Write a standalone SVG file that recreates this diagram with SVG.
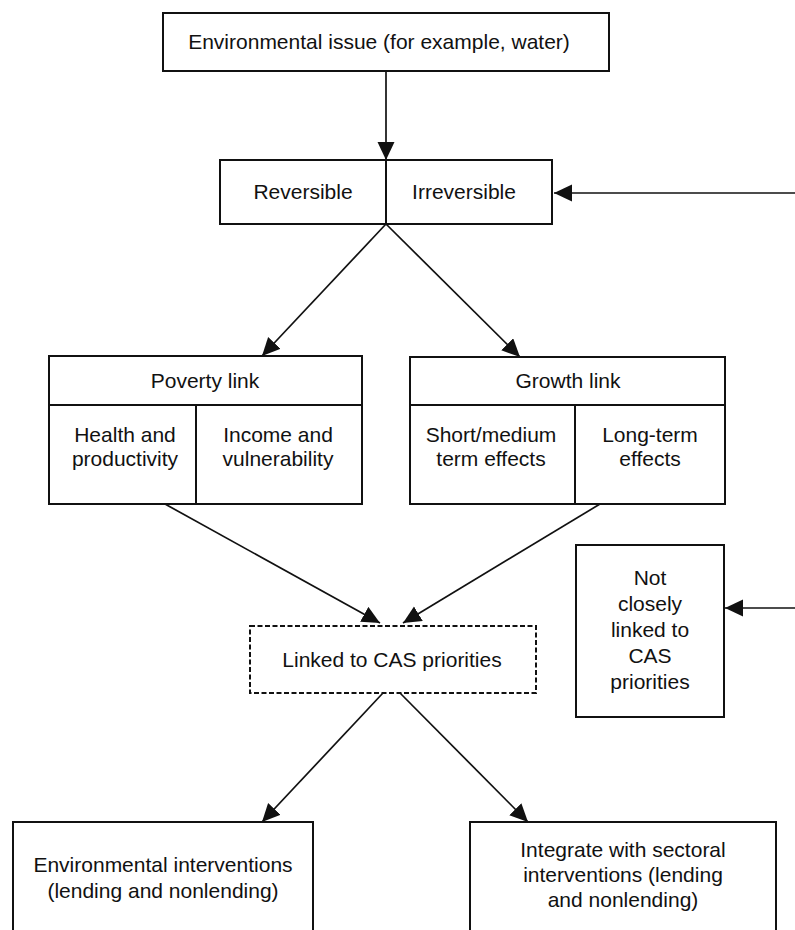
<svg xmlns="http://www.w3.org/2000/svg" width="795" height="930" viewBox="0 0 795 930">
<style>
  .box{fill:#fff;stroke:#111;stroke-width:2}
  .dash{fill:#fff;stroke:#111;stroke-width:2;stroke-dasharray:5 2.5}
  .div{stroke:#111;stroke-width:2;fill:none}
  .t{font-family:"Liberation Sans",Arial,sans-serif;font-size:21px;fill:#111;text-anchor:middle}
  .c{stroke:#111;stroke-width:1.7;fill:none;marker-end:url(#ah)}
</style>
<defs>
  <marker id="ah" markerUnits="userSpaceOnUse" markerWidth="19" markerHeight="18" refX="18" refY="8.5" orient="auto">
    <path d="M0,0 L18,8.5 L0,17 z" fill="#111"/>
  </marker>
</defs>
<rect width="795" height="930" fill="#fff"/>

<g id="connectors">
  <line class="c" x1="386" y1="71" x2="386" y2="160"/>
  <line class="c" x1="795" y1="193" x2="554" y2="193"/>
  <line class="c" x1="386" y1="224" x2="262" y2="356"/>
  <line class="c" x1="386" y1="224" x2="520" y2="357"/>
  <line class="c" x1="165" y1="504" x2="380" y2="623"/>
  <line class="c" x1="600" y1="504" x2="403" y2="623"/>
  <line class="c" x1="795" y1="608" x2="725" y2="608"/>
  <line class="c" x1="383" y1="693" x2="262" y2="822"/>
  <line class="c" x1="400" y1="693" x2="528" y2="822"/>
</g>

<g id="issue">
  <rect class="box" x="163" y="13" width="446" height="58"/>
  <text class="t" x="379" y="49">Environmental issue (for example, water)</text>
</g>

<g id="reversibility">
  <rect class="box" x="220" y="160" width="332" height="64"/>
  <line class="div" x1="386" y1="160" x2="386" y2="224"/>
  <text class="t" x="303" y="199">Reversible</text>
  <text class="t" x="464" y="199">Irreversible</text>
</g>

<g id="poverty">
  <rect class="box" x="49" y="356" width="313" height="148"/>
  <line class="div" x1="49" y1="405" x2="362" y2="405"/>
  <line class="div" x1="196" y1="405" x2="196" y2="504"/>
  <text class="t" x="205" y="388">Poverty link</text>
  <text class="t" x="125" y="442">Health and</text>
  <text class="t" x="125" y="466">productivity</text>
  <text class="t" x="278" y="442">Income and</text>
  <text class="t" x="278" y="466">vulnerability</text>
</g>

<g id="growth">
  <rect class="box" x="410" y="357" width="315" height="147"/>
  <line class="div" x1="410" y1="405" x2="725" y2="405"/>
  <line class="div" x1="575" y1="405" x2="575" y2="504"/>
  <text class="t" x="568" y="388">Growth link</text>
  <text class="t" x="491" y="442">Short/medium</text>
  <text class="t" x="491" y="466">term effects</text>
  <text class="t" x="650" y="442">Long-term</text>
  <text class="t" x="650" y="466">effects</text>
</g>

<g id="linked">
  <rect class="dash" x="250" y="626" width="286" height="67"/>
  <text class="t" x="392" y="667">Linked to CAS priorities</text>
</g>

<g id="notlinked">
  <rect class="box" x="576" y="545" width="148" height="172"/>
  <text class="t" x="650" y="585">Not</text>
  <text class="t" x="650" y="611">closely</text>
  <text class="t" x="650" y="637">linked to</text>
  <text class="t" x="650" y="663">CAS</text>
  <text class="t" x="650" y="689">priorities</text>
</g>

<g id="envinterventions">
  <rect class="box" x="13" y="822" width="300" height="120"/>
  <text class="t" x="163" y="872">Environmental interventions</text>
  <text class="t" x="163" y="898">(lending and nonlending)</text>
</g>

<g id="sectoral">
  <rect class="box" x="470" y="822" width="306" height="120"/>
  <text class="t" x="623" y="857">Integrate with sectoral</text>
  <text class="t" x="623" y="882">interventions (lending</text>
  <text class="t" x="623" y="907">and nonlending)</text>
</g>
</svg>
